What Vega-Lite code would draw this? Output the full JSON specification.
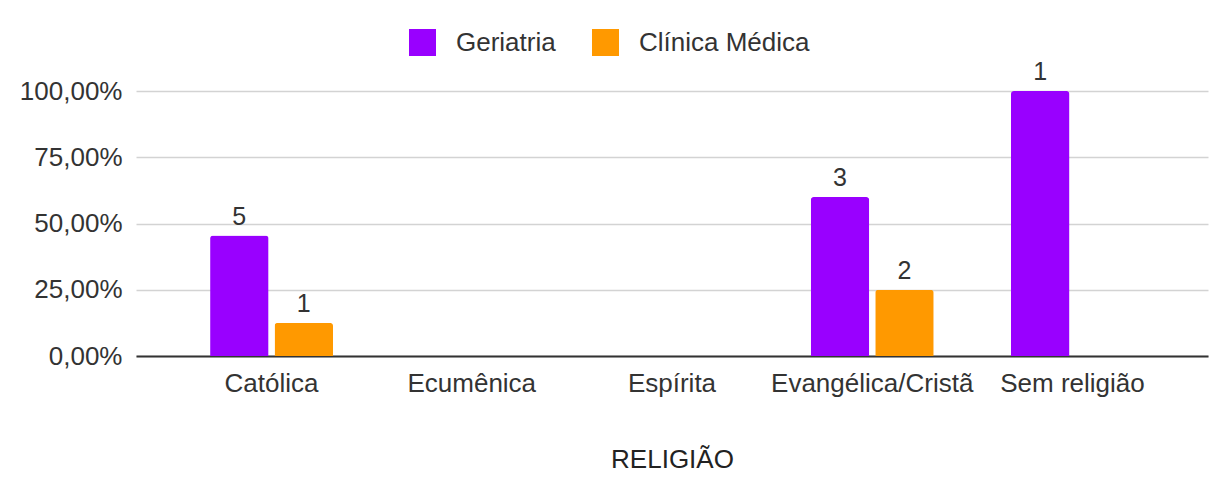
{
  "$schema": "https://vega.github.io/schema/vega-lite/v6.json",
  "autosize": {"type": "none"},
  "width": 1072,
  "height": 265,
  "padding": {"left": 136, "top": 91, "right": 20, "bottom": 123},
  "background": "white",
  "config": {
    "font": "Liberation Sans",
    "view": {"stroke": null}
  },
  "data": {
    "values": [
      {"religiao": "Católica", "grupo": "Geriatria", "pct": 0.4545, "n": 5},
      {"religiao": "Católica", "grupo": "Clínica Médica", "pct": 0.125, "n": 1},
      {"religiao": "Evangélica/Cristã", "grupo": "Geriatria", "pct": 0.6, "n": 3},
      {"religiao": "Evangélica/Cristã", "grupo": "Clínica Médica", "pct": 0.25, "n": 2},
      {"religiao": "Sem religião", "grupo": "Geriatria", "pct": 1.0, "n": 1}
    ]
  },
  "encoding": {
    "x": {
      "field": "religiao",
      "type": "nominal",
      "scale": {
        "domain": ["Católica", "Ecumênica", "Espírita", "Evangélica/Cristã", "Sem religião"],
        "paddingInner": 0.386,
        "paddingOuter": 0.37
      },
      "axis": {
        "title": "RELIGIÃO",
        "labelAngle": 0,
        "labelFontSize": 26,
        "labelLimit": 0,
        "labelColor": "#333333",
        "labelPadding": 14,
        "ticks": false,
        "domainColor": "#333333",
        "domainWidth": 2,
        "titleFontSize": 26,
        "titleFontWeight": "normal",
        "titleColor": "#222222",
        "titlePadding": 50,
        "grid": false
      }
    },
    "xOffset": {
      "field": "grupo",
      "type": "nominal",
      "scale": {"domain": ["Geriatria", "Clínica Médica"], "paddingInner": 0.093}
    },
    "y": {
      "field": "pct",
      "type": "quantitative",
      "scale": {"domain": [0, 1]},
      "axis": {
        "title": null,
        "values": [0, 0.25, 0.5, 0.75, 1],
        "labelExpr": "replace(format(datum.value, '.2%'), '.', ',')",
        "labelFontSize": 26,
        "labelLimit": 0,
        "labelColor": "#333333",
        "labelPadding": 14,
        "ticks": false,
        "domain": false,
        "gridColor": "#d3d3d3",
        "gridWidth": 1.5
      }
    }
  },
  "layer": [
    {
      "mark": {"type": "bar", "cornerRadiusTopLeft": 3, "cornerRadiusTopRight": 3},
      "encoding": {
        "color": {
          "field": "grupo",
          "type": "nominal",
          "scale": {"domain": ["Geriatria", "Clínica Médica"], "range": ["#9900ff", "#ff9900"]},
          "legend": {
            "title": null,
            "orient": "none",
            "direction": "horizontal",
            "legendX": 273,
            "legendY": -62,
            "padding": 0,
            "symbolType": "square",
            "symbolSize": 729,
            "symbolStrokeWidth": 0,
            "symbolOpacity": 1,
            "labelFontSize": 26,
            "labelLimit": 0,
            "labelColor": "#333333",
            "labelOffset": 20,
            "columnPadding": 36
          }
        }
      }
    },
    {
      "mark": {"type": "text", "baseline": "bottom", "dy": -6, "fontSize": 25, "color": "#333333"},
      "encoding": {
        "text": {"field": "n", "type": "quantitative"}
      }
    }
  ]
}
